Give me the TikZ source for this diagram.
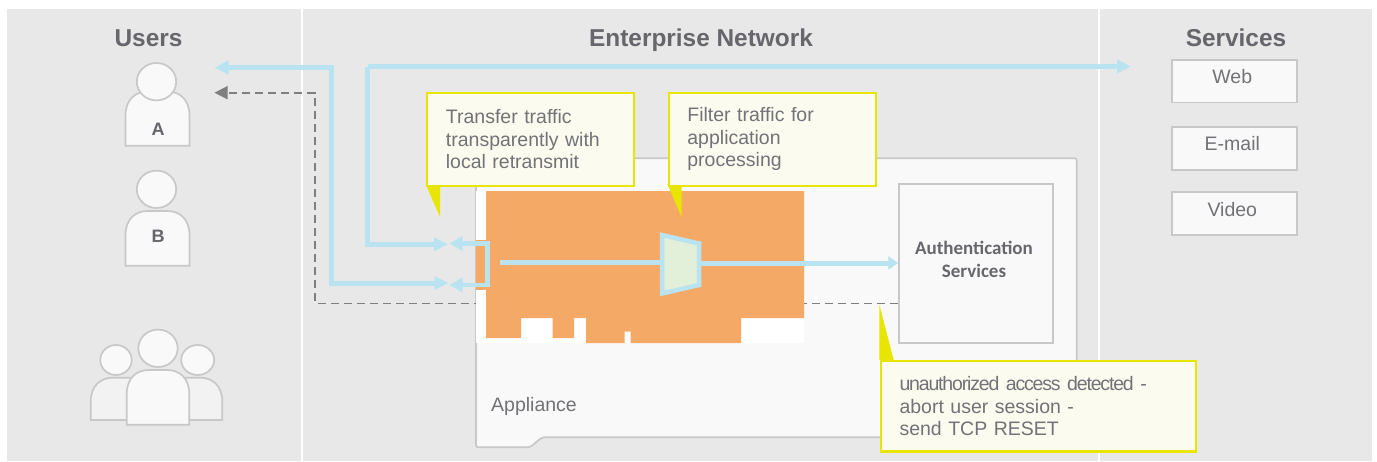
\documentclass[tikz,border=0pt]{standalone}
\usepackage{fontspec}
\setmainfont{Liberation Sans}
\newfontfamily\authfont{Carlito}
\newfontfamily\notefont[WordSpace=0.5]{Liberation Sans}
\usetikzlibrary{arrows.meta}
\definecolor{panel}{HTML}{E8E8E8}
\definecolor{boxfill}{HTML}{F9F9F9}
\definecolor{sidefill}{HTML}{F2F2F2}
\definecolor{boxline}{HTML}{C8C8C8}
\definecolor{flow}{HTML}{B9E3F0}
\definecolor{dashline}{HTML}{7F7F7F}
\definecolor{txt}{HTML}{727277}
\definecolor{titletxt}{HTML}{66666C}
\definecolor{notefill}{HTML}{FBFCEF}
\definecolor{noteline}{HTML}{E8E600}
\definecolor{orange}{HTML}{F4A966}
\definecolor{muxfill}{HTML}{E2EFD9}
\tikzset{
  x=1pt,y=-1pt,
  title/.style={font=\fontsize{24.4}{28}\selectfont\bfseries,text=titletxt,anchor=base,inner sep=0},
  plain/.style={font=\fontsize{19.5}{22.5}\selectfont,text=txt,inner sep=0},
  userlabel/.style={font=\fontsize{18}{20}\selectfont\bfseries,text=titletxt,inner sep=0},
  boxshape/.style={draw=boxline,fill=boxfill,line width=1.7pt},
  sideshape/.style={draw=boxline,fill=sidefill,line width=1.7pt},
  svc/.style={draw=boxline,fill=boxfill,line width=1.7pt,minimum width=125pt,minimum height=42.5pt,inner sep=0,anchor=north west},
  note/.style={draw=noteline,fill=notefill,line width=2.2pt,anchor=north west,inner xsep=18.8pt,inner ysep=0,align=left,
    font=\notefont\fontsize{19.5}{22.5}\selectfont,text=txt},
  pointer/.style={fill=noteline,draw=none},
  flowline/.style={draw=flow,line width=5pt},
  flowarrow/.style={flowline,-{Triangle[length=14pt,width=13pt]}},
  thinflow/.style={draw=flow,line width=4.5pt,-{Triangle[length=13pt,width=14pt]}},
  resetline/.style={draw=dashline,line width=1.6pt,dash pattern=on 8pt off 5pt,-{Triangle[length=13pt,width=13pt]}},
}
\newcommand{\bodyshape}[5]{% left,right,top,bottom,style
  \draw[#5] (#1,#4) -- (#1,#3+24) .. controls (#1,#3+8) and (#1+10,#3) .. (#1+22,#3)
    -- (#2-22,#3) .. controls (#2-10,#3) and (#2,#3+8) .. (#2,#3+24) -- (#2,#4) -- cycle;
}
\begin{document}
\begin{tikzpicture}
\useasboundingbox (0,0) rectangle (1377,461);
% panels
\fill[panel] (7,9) rectangle (1371.5,461);
\fill[white] (300.7,9) rectangle (302.7,461);
\fill[white] (1098,9) rectangle (1100,461);
% titles
\node[title] (tusers) at (148.5,46) {Users};
\node[title] (tnet) at (701,46) {Enterprise Network};
\node[title] (tsvc) at (1236,46) {Services};
% users
\bodyshape{125.5}{189.5}{91.5}{145.7}{boxshape}
\draw[boxshape] (156.5,81.7) ellipse [x radius=19.7,y radius=18.7];
\node[userlabel] (ua) at (158,129.5) {A};
\bodyshape{125.5}{189.5}{211}{265.7}{boxshape}
\draw[boxshape] (156.5,189.3) ellipse [x radius=19.7,y radius=18.7];
\node[userlabel] (ub) at (158,236.5) {B};
% group
\bodyshape{90.7}{150}{377.7}{420}{sideshape}
\bodyshape{165}{222.3}{377.7}{420}{sideshape}
\draw[boxshape] (116,360) ellipse [x radius=15.7,y radius=15];
\draw[boxshape] (197.7,360) ellipse [x radius=16.5,y radius=15];
\bodyshape{126.7}{189.3}{370}{424.7}{boxshape}
\draw[boxshape] (158,348.3) ellipse [x radius=19.7,y radius=18.7];
% services
\node[svc] (web) at (1171,59) {};
\node[svc] (mail) at (1171,126.3) {};
\node[svc] (video) at (1171,191.3) {};
\node[plain] (tweb) at (1232.3,76.7) {Web};
\node[plain] (tmail) at (1232.3,144) {E-mail};
\node[plain] (tvideo) at (1232.3,210) {Video};
% appliance
\draw[boxshape,rounded corners=2pt] (476,158.3) -- (1076.7,158.3) -- (1076.7,437.3) -- (542,437.3) -- (530,447.3) -- (476,447.3) -- cycle;
\node[plain,anchor=base west] (appl) at (491,411) {Appliance};
% auth
\node[draw=boxline,fill=boxfill,line width=1.7pt,anchor=north west,minimum width=154pt,minimum height=158.5pt,inner sep=0] (auth) at (898.3,183.3) {};
\node[align=center,inner sep=0,font=\authfont\fontsize{19}{23}\selectfont\bfseries,text=titletxt] (tauth) at (974,259.5) {Authentication\\Services};
% anchors for connectors
\coordinate (userA1) at (214.5,67.5);
\coordinate (userA2) at (214.5,92.7);
\coordinate (svcTip) at (1131,66.5);
\coordinate (inUp) at (448,244.3);
\coordinate (inLow) at (448.5,283);
\coordinate (dashStart) at (897.7,303.3);
% dashed reset
\draw[resetline] (dashStart) -- (315,303.3) -- (315,92.7) -- (userA2);
% card
\fill[white] (476,191) rectangle (804,343);
\fill[orange] (486,191) -- (804,191) -- (804,318) -- (741,318) -- (741,343) -- (630.7,343) -- (630.7,331.7) -- (624.7,331.7) -- (624.7,343)
  -- (586,343) -- (586,318) -- (574,318) -- (574,338) -- (552.7,338) -- (552.7,318) -- (521,318) -- (521,338) -- (486,338) -- cycle;
\fill[orange] (476,240) rectangle (488,290);
% flows
\draw[flowarrow] (331.5,283) -- (331.5,67.5) -- (userA1);
\draw[flowarrow] (331.5,67.5) -- (331.5,283) -- (inLow);
\draw[flowarrow] (367.7,66.5) -- (svcTip);
\draw[flowarrow] (367.7,66.5) -- (367.7,244.3) -- (inUp);
\coordinate (retUp) at (449.5,243.5);
\coordinate (retLow) at (449.5,285);
\draw[thinflow] (487.7,264) -- (487.7,243.5) -- (retUp);
\draw[thinflow] (487.7,264) -- (487.7,285) -- (retLow);
% mux
\draw[flow,line width=4.5pt,fill=muxfill] (662,235) -- (699,243.5) -- (699,285) -- (662,293.5) -- cycle;
\coordinate (busStart) at (500,262.5);
\draw[draw=flow,line width=5pt] (busStart) -- (660,262.5);
\draw[draw=flow,line width=5pt,-{Triangle[length=10pt,width=13pt]}] (701,263) -- (auth.west |- 0,263);
% callouts
\fill[pointer] (425.7,184) -- (440,184) -- (440,217) -- cycle;
\node[note,text width=169.4pt,minimum height=92.5pt] (n1) at (426,92) {Transfer traffic\\transparently with\\local retransmit};
\fill[pointer] (667.3,184) -- (681.5,184) -- (681.5,217) -- cycle;
\node[note,text width=169.4pt,minimum height=92.5pt] (n2) at (667.5,92) {Filter traffic for\\application\\processing};
\fill[pointer] (879.3,304.5) -- (893.7,360) -- (879.3,360) -- cycle;
\node[note,text width=278pt,minimum height=90.5pt] (n3) at (879.6,359.8) {\addfontfeature{LetterSpace=-6}unauthorized access detected -\\\normalfont\notefont\fontsize{19.5}{22.5}\selectfont abort user session -\\send TCP RESET};
\end{tikzpicture}
\end{document}
